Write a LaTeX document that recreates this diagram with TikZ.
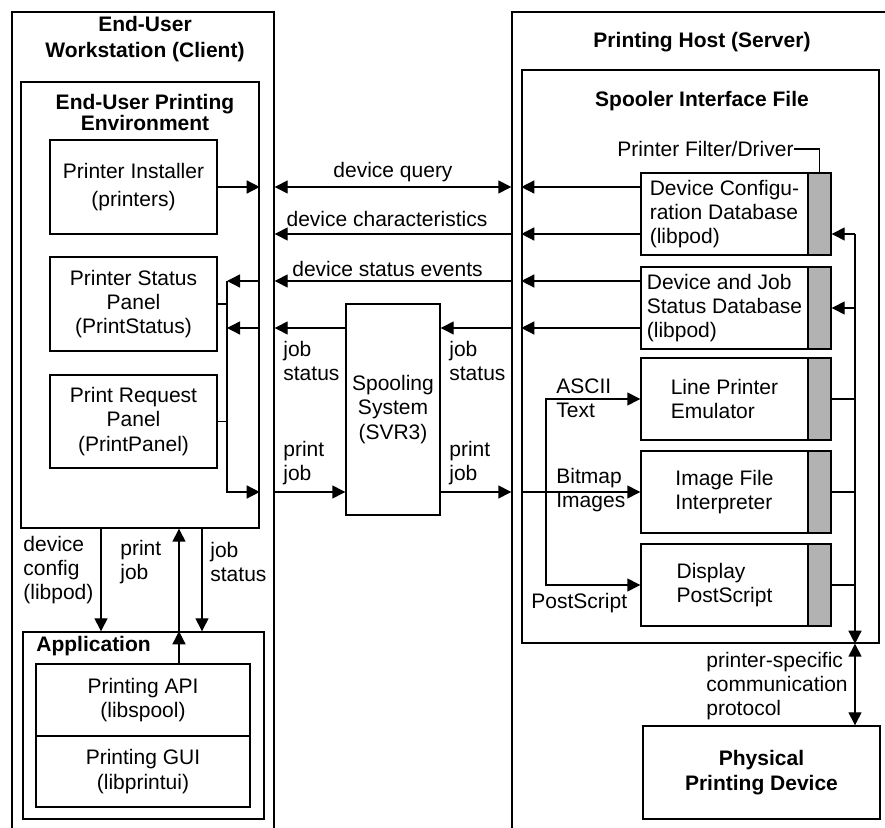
\documentclass[tikz,border=0pt]{standalone}
\usepackage{fontspec}
\setmainfont{Liberation Sans}
\usepackage{tikz}
\usetikzlibrary{arrows.meta}

\begin{document}
\begin{tikzpicture}[x=0.5pt,y=-0.5pt,font=\fontsize{10.5}{12.2}\selectfont,
	box/.style = {draw, line width=0.7pt, inner sep=0pt, align=center},
	bar/.style = {draw, line width=0.7pt, fill=black!30, inner sep=0pt, minimum width=11.5pt, minimum height=41pt},
	txt/.style = {inner sep=0pt, align=left},
	head/.style = {font=\fontsize{10.5}{12.2}\selectfont\bfseries},
	line/.style = {line width=0.7pt},
	arr/.style = {line width=0.7pt, -{Triangle[length=6.5pt,width=6.5pt]}},
	dbl/.style = {line width=0.7pt, {Triangle[length=6.5pt,width=6.5pt]}-{Triangle[length=6.5pt,width=6.5pt]}}]
				\useasboundingbox (0,0) rectangle (885,828);
				\begin{scope}[every node/.style={box}]
					\node[minimum width=131pt, minimum height=424pt] (Client) at (143,436) {};
					\node[minimum width=194pt, minimum height=424pt] (Host) at (706,436) {};
					\node[minimum width=119pt, minimum height=223pt] (Env) at (140,305) {};
					\node[minimum width=83.5pt, minimum height=47pt] (Inst) at (133.5,187) {Printer Installer\\[2pt](printers)};
					\node[minimum width=83.5pt, minimum height=47pt] (Stat) at (133.5,304) {Printer Status\\Panel\\(PrintStatus)};
					\node[minimum width=83.5pt, minimum height=46.5pt] (Req) at (133.5,421.5) {Print Request\\Panel\\(PrintPanel)};
					\node[minimum width=47pt, minimum height=105.5pt] (Spool) at (393,409.5) {Spooling\\System\\(SVR3)};
					\node[minimum width=178.5pt, minimum height=286.5pt] (SIF) at (700.5,356.5) {};
					\node[minimum width=83.5pt, minimum height=41pt, align=left] (Cfg) at (724.5,214) {Device Configu-\\ration Database\\(libpod)};
					\node[minimum width=83.5pt, minimum height=41pt, align=left] (Djs) at (724.5,308) {Device and Job\\Status Database\\(libpod)};
					\node[minimum width=83.5pt, minimum height=41pt, align=left] (Lpe) at (724.5,399) {Line Printer\\Emulator};
					\node[minimum width=83.5pt, minimum height=41pt, align=left] (Ifi) at (724.5,492) {Image File\\Interpreter};
					\node[minimum width=83.5pt, minimum height=41pt, align=left] (Dps) at (724.5,585) {Display\\PostScript};
					\node[minimum width=120.5pt, minimum height=93.5pt] (App) at (143.5,725.5) {};
					\node[minimum width=107pt, minimum height=36pt] (API) at (143,700) {Printing API\\(libspool)};
					\node[minimum width=107pt, minimum height=35.5pt] (GUI) at (143,771.5) {Printing GUI\\(libprintui)};
					\node[head, minimum width=118.5pt, minimum height=46.5pt] (Phys) at (761.5,772.5) {Physical\\Printing Device};
				\end{scope}
				\node[bar] (CfgB) at (819.5,214) {};
				\node[bar] (DjsB) at (819.5,308) {};
				\node[bar] (LpeB) at (819.5,399) {};
				\node[bar] (IfiB) at (819.5,492) {};
				\node[bar] (DpsB) at (819.5,585) {};
				\begin{scope}[every node/.style={txt}]
					\node[head, align=center] (ClientT) at (145,39) {End-User\\[0.8pt]Workstation (Client)};
					\node[head] (HostT) at (702,42) {Printing Host (Server)};
					\node[head, align=center] (EnvT) at (145,112.5) {End-User Printing\\[-1.5pt]Environment};
					\node[head] (SIFT) at (702,101) {Spooler Interface File};
					\node[head, anchor=west] (AppT) at (36,646) {Application};
					\node[anchor=east] (PFD) at (794,149) {Printer Filter/Driver};
					\node (QryL) at (393,172) {device query};
					\node (ChrL) at (387,219) {device characteristics};
					\node (EvtL) at (387.5,269) {device status events};
					\node[anchor=west] (JsL) at (283,361) {job\\status};
					\node[anchor=west] (PjL) at (283,463) {print\\job};
					\node[anchor=west] (JsR) at (449,361) {job\\status};
					\node[anchor=west] (PjR) at (449,463) {print\\job};
					\node[anchor=west] (AscL) at (556,398) {ASCII\\Text};
					\node[anchor=west] (BmpL) at (556,490) {Bitmap\\Images};
					\node[anchor=west] (PsL) at (531,603) {PostScript};
					\node[anchor=west] (ProtoL) at (706,686) {printer-specific\\communication\\protocol};
					\node[anchor=west] (DcL) at (23,570) {device\\config\\(libpod)};
					\node[anchor=west] (PjA) at (120,562) {print\\job};
					\node[anchor=west] (JsA) at (210,562) {job\\status};
				\end{scope}
				\coordinate (R1) at (0,187);
				\coordinate (R2) at (0,234);
				\coordinate (R3) at (0,281);
				\coordinate (R4) at (0,328);
				\coordinate (R5) at (0,492);
				\coordinate (LBus) at (227,0);
				\coordinate (RBus) at (855,0);
				\coordinate (Fork) at (546,0);
				\coordinate (DcX) at (101,0);
				\coordinate (PjX) at (179,0);
				\coordinate (JsX) at (202,0);
				\draw [arr] (Inst.east) -- (Inst.east -| Env.east);
				\draw [dbl] (R1 -| Client.east) -- (R1 -| Host.west);
				\draw [arr] (R2 -| Host.west) -- (R2 -| Client.east);
				\draw [arr] (R3 -| Host.west) -- (R3 -| Client.east);
				\draw [arr] (R4 -| Spool.west) -- (R4 -| Client.east);
				\draw [arr] (R4 -| Host.west) -- (R4 -| Spool.east);
				\draw [arr] (R5 -| Client.east) -- (R5 -| Spool.west);
				\draw [arr] (R5 -| Spool.east) -- (R5 -| Host.west);
				\draw [arr] (R3 -| Env.east) -- (R3 -| LBus);
				\draw [arr] (R4 -| Env.east) -- (R4 -| LBus);
				\draw [line] (Stat.east) -- (Stat.east -| LBus);
				\draw [line] (Req.east) -- (Req.east -| LBus);
				\draw [arr] (R3 -| LBus) |- (R5 -| Env.east);
				\draw [arr] (R1 -| Cfg.west) -- (R1 -| SIF.west);
				\draw [arr] (R2 -| Cfg.west) -- (R2 -| SIF.west);
				\draw [arr] (R3 -| Djs.west) -- (R3 -| SIF.west);
				\draw [arr] (R4 -| Djs.west) -- (R4 -| SIF.west);
				\draw [arr] (R5 -| SIF.west) -- (Ifi.west);
				\draw [arr] (Dps.west -| Fork) |- (Lpe.west);
				\draw [arr] (Lpe.west -| Fork) |- (Dps.west);
				\draw [line] (PFD.east) -| (CfgB.north);
				\draw [arr] (R2 -| RBus) -- (R2 -| CfgB.east);
				\draw [arr] (DjsB.east -| RBus) -- (DjsB.east);
				\draw [line] (LpeB.east) -- (LpeB.east -| RBus);
				\draw [line] (IfiB.east) -- (IfiB.east -| RBus);
				\draw [line] (DpsB.east) -- (DpsB.east -| RBus);
				\draw [arr] (R2 -| RBus) -- (SIF.south -| RBus);
				\draw [dbl] (SIF.south -| RBus) -- (Phys.north -| RBus);
				\draw [arr] (Env.south -| DcX) -- (App.north -| DcX);
				\draw [arr] (API.north -| PjX) -- (App.north -| PjX);
				\draw [arr] (App.north -| PjX) -- (Env.south -| PjX);
				\draw [arr] (Env.south -| JsX) -- (App.north -| JsX);
			\end{tikzpicture}
\end{document}
